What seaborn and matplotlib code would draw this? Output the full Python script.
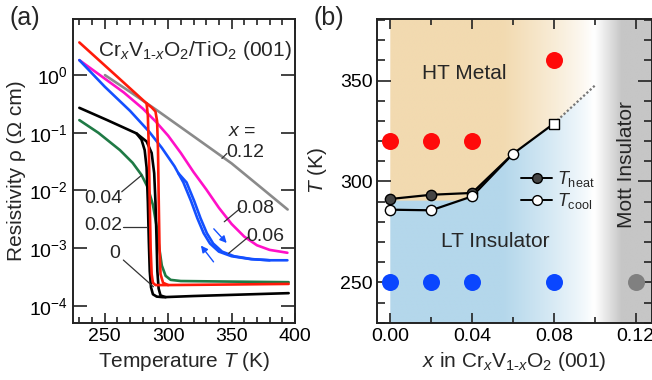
import numpy as np
import pandas as pd
import matplotlib
matplotlib.use("Agg")
import matplotlib.pyplot as plt
import matplotlib.ticker as mticker
from matplotlib.lines import Line2D
import seaborn as sns

# ---------------- data: panel (a) ----------------
# temperatures (K) and log10(resistivity / Ohm cm)
T_x0_cool = [230, 252, 275, 279, 281.5, 283, 284, 284.8, 285.5, 286.5, 288, 291, 296, 320, 350, 395]
L_x0_cool = [-0.567, -0.78, -1.01, -1.12, -1.3, -1.6, -2.2, -2.9, -3.4, -3.68, -3.8, -3.84, -3.85, -3.83, -3.81, -3.78]
T_x0_heat = [275, 283, 287, 289, 290, 290.8, 291.5, 292.5, 294, 298]
L_x0_heat = [-1.01, -1.15, -1.35, -1.7, -2.2, -2.8, -3.4, -3.7, -3.82, -3.85]

T_x2_cool = [230, 260, 283, 284, 284.8, 285.5, 286.2, 287, 288, 290, 300, 350, 395]
L_x2_cool = [0.567, -0.03, -0.49, -0.7, -1.3, -2.2, -3.0, -3.45, -3.6, -3.64, -3.64, -3.63, -3.62]
T_x2_heat = [283, 287, 290, 291.3, 292, 292.6, 293.2, 294, 296, 300]
L_x2_heat = [-0.49, -0.56, -0.63, -0.8, -1.3, -2.2, -3.0, -3.45, -3.6, -3.64]

T_x4 = [230, 245, 262, 272, 279, 284, 288, 291, 293, 295, 298, 302, 310, 350, 395]
L_x4 = [-0.78, -1.0, -1.3, -1.52, -1.73, -1.95, -2.25, -2.63, -3.0, -3.3, -3.48, -3.55, -3.57, -3.58, -3.59]

T_x6_cool = [230, 250, 270, 285, 295, 305, 312, 318, 323, 328, 333, 340, 350, 365, 380, 394]
L_x6_cool = [0.26, -0.2, -0.62, -0.98, -1.26, -1.58, -1.86, -2.18, -2.48, -2.74, -2.92, -3.06, -3.14, -3.19, -3.21, -3.21]
T_x6_heat = [308, 314.5, 320.5, 325.5, 330.5, 335.5, 342.5, 352, 366, 380]
L_x6_heat = [-1.70, -1.86, -2.18, -2.48, -2.74, -2.92, -3.06, -3.14, -3.19, -3.21]

T_x8 = [230, 250, 265, 280, 290, 300, 310, 320, 330, 340, 350, 360, 370, 380, 394]
L_x8 = [0.26, -0.06, -0.3, -0.58, -0.8, -1.05, -1.35, -1.68, -1.98, -2.3, -2.58, -2.8, -2.95, -3.03, -3.08]

T_x12 = [250.2, 270, 291, 320, 350, 372.7, 394.2]
L_x12 = [0.0, -0.29, -0.607, -1.06, -1.53, -1.94, -2.33]

# ---------------- data: panel (b) ----------------
x_heat = [0.00, 0.02, 0.04, 0.06]
T_heat = [291.3, 293.4, 294.3, 313.7]
x_cool = [0.00, 0.02, 0.04, 0.06]
T_cool = [286.0, 285.7, 292.6, 313.7]
x_cool_sq = [0.08]
T_cool_sq = [328.7]
x_extrap = [0.08, 0.10]
T_extrap = [328.7, 347.5]
x_metal = [0.00, 0.02, 0.04, 0.08]
T_metal = [320, 320, 320, 360]
x_ins = [0.00, 0.02, 0.04, 0.08]
T_ins = [250, 250, 250, 250]
x_mott = [0.12]
T_mott = [250]
# tan/blue boundary of the shaded phase regions
x_bound = [0.00, 0.035, 0.04, 0.06, 0.08, 0.10, 0.13]
T_bound = [290.5, 290.5, 292.6, 313.7, 328.7, 347.5, 378]

# ---------------- style ----------------
sns.set_style("ticks")
plt.rcParams["font.family"] = ["Liberation Sans", "DejaVu Sans"]
plt.rcParams["mathtext.fontset"] = "custom"
plt.rcParams["mathtext.rm"] = "Liberation Sans"
plt.rcParams["mathtext.it"] = "Liberation Sans:italic"
plt.rcParams["axes.edgecolor"] = "#222222"
plt.rcParams["axes.linewidth"] = 1.4

fig = plt.figure(figsize=(6.52, 3.80), dpi=100)
axa = fig.add_axes([73/652, 1-322.7/380, (295-73)/652, (322.7-19)/380])
axb = fig.add_axes([377.3/652, 1-322.7/380, (651.5-377.3)/652, (322.7-19)/380])

def branch(ax, T, L, color, lw=1.9):
    df = pd.DataFrame({"T": T, "rho": 10.0 ** np.asarray(L)})
    sns.lineplot(data=df, x="T", y="rho", ax=ax, color=color, lw=lw,
                 sort=False, estimator=None, legend=False)

c_red = "#ff1a0a"
c_blue = "#1450ff"
c_mag = "#ff10c8"
c_green = "#1f7a45"
c_grey = "#8a8a8a"

branch(axa, T_x12, L_x12, c_grey)
branch(axa, T_x8, L_x8, c_mag)
branch(axa, T_x6_cool, L_x6_cool, c_blue)
branch(axa, T_x6_heat, L_x6_heat, c_blue)
branch(axa, T_x4, L_x4, c_green)
branch(axa, T_x0_cool, L_x0_cool, "black")
branch(axa, T_x0_heat, L_x0_heat, "black")
branch(axa, T_x2_cool, L_x2_cool, c_red)
branch(axa, T_x2_heat, L_x2_heat, c_red)

axa.set_yscale("log")
axa.set_xlim(225, 400)
axa.set_ylim(5.1e-5, 9.4)
axa.xaxis.set_major_locator(mticker.MultipleLocator(50))
axa.xaxis.set_minor_locator(mticker.MultipleLocator(10))
axa.yaxis.set_major_locator(mticker.LogLocator(base=10, numticks=10))
axa.yaxis.set_minor_locator(mticker.NullLocator())
axa.tick_params(axis="both", which="both", direction="in", top=True, right=True,
                labelsize=14, colors="#222222", labelcolor="black")
axa.tick_params(axis="x", which="major", length=7, width=1.2)
axa.tick_params(axis="x", which="minor", length=4, width=1.2)
axa.tick_params(axis="y", which="major", length=10, width=1.2)
axa.set_xlabel("Temperature $T$ (K)", fontsize=15, labelpad=4)
axa.set_ylabel("Resistivity ρ (Ω cm)", fontsize=15, labelpad=2)

axa.text(0.985, 0.895, "Cr$_x$V$_{1\\text{-}x}$O$_2$/TiO$_2$ (001)", transform=axa.transAxes,
         ha="right", va="center", fontsize=15)

def px(pxx, pxy):
    T = 300 + (pxx - 168) * 50 / 63.3
    lg = -(pxy - 75) / 57.7
    return (T, 10 ** lg)

# curve labels with leader lines
def lab(text, xy_text, xy_line0, xy_line1, ha="center"):
    axa.text(*xy_text, text, fontsize=14, ha=ha, va="center")
    axa.plot([xy_line0[0], xy_line1[0]], [xy_line0[1], xy_line1[1]], color="#333333", lw=0.9)

axa.text(*px(241.7, 131.7), "$x$ =", fontsize=14, ha="center", va="center")
lab("0.12", px(245, 152), px(221.7, 158.3), px(226.7, 153.3))
lab("0.08", px(255, 208), px(224, 221.7), px(240, 208.3))
lab("0.06", px(265, 236.7), px(228.3, 253.3), px(248.3, 236.7))
lab("0.04", px(103.3, 198.3), px(121.7, 191.7), px(141.7, 175))
lab("0.02", px(103.3, 225), px(123.3, 226.7), px(146.7, 226.7))
lab("0", px(115, 253.3), px(123.3, 260), px(153.3, 286.7))

# hysteresis arrows
axa.annotate("", xy=px(228.3, 245), xytext=px(211.7, 226.7),
             arrowprops=dict(arrowstyle="-|>", color=c_blue, lw=1.0, mutation_scale=10))
axa.annotate("", xy=px(199, 243.3), xytext=px(215, 264),
             arrowprops=dict(arrowstyle="-|>", color=c_blue, lw=1.0, mutation_scale=10))

fig.text(25/652, 1-18/380, "(a)", fontsize=18, ha="center", va="center")
fig.text(329/652, 1-18/380, "(b)", fontsize=18, ha="center", va="center")

# ---------------- panel (b) ----------------
xlo, xhi = -0.00634, 0.1277
ylo, yhi = 230, 380.5
nx, ny = 600, 400
xs = np.linspace(xlo, xhi, nx)
ys = np.linspace(ylo, yhi, ny)
XX, YY = np.meshgrid(xs, ys)
bnd = np.interp(XX, x_bound, T_bound)
tan = np.array([242, 218, 176]) / 255.0
blue = np.array([180, 215, 235]) / 255.0
grey = np.array([198, 198, 198]) / 255.0
base = np.where((YY > bnd)[..., None], tan, blue)
fade = np.clip((0.099 - XX) / (0.099 - 0.055), 0, 1) ** 0.8
gfade = np.clip((XX - 0.1) / (0.113 - 0.1), 0, 1)
img = np.ones((ny, nx, 3))
img = img * (1 - fade[..., None]) + base * fade[..., None]
img = img * (1 - gfade[..., None]) + grey * gfade[..., None]
img[XX < 0] = 1.0
axb.imshow(img, extent=[xlo, xhi, ylo, yhi], origin="lower", aspect="auto",
           interpolation="bilinear", zorder=0)

sns.lineplot(x=x_extrap, y=T_extrap, ax=axb, color="#777777", lw=1.6, linestyle=(0, (1, 1)),
             sort=False, estimator=None, legend=False)
sns.lineplot(x=x_heat, y=T_heat, ax=axb, color="black", lw=1.6, sort=False, estimator=None, legend=False)
sns.lineplot(x=x_cool + x_cool_sq, y=T_cool + T_cool_sq, ax=axb, color="black", lw=1.6,
             sort=False, estimator=None, legend=False)
axb.scatter(x_heat[:3], T_heat[:3], s=55, color="#444444", edgecolor="black", lw=1.0, zorder=4)
axb.scatter(x_cool, T_cool, s=55, color="white", edgecolor="black", lw=1.0, zorder=5)
axb.scatter(x_cool_sq, T_cool_sq, s=55, marker="s", color="white", edgecolor="black", lw=1.0, zorder=5)
axb.scatter(x_metal, T_metal, s=150, color="#ff0a0a", lw=0, zorder=3)
axb.scatter(x_ins, T_ins, s=150, color="#0a46ff", lw=0, zorder=3)
axb.scatter(x_mott, T_mott, s=150, color="#808080", lw=0, zorder=3)

axb.set_xlim(xlo, xhi)
axb.set_ylim(ylo, yhi)
axb.xaxis.set_major_locator(mticker.FixedLocator([0.0, 0.04, 0.08, 0.12]))
axb.xaxis.set_major_formatter(mticker.FormatStrFormatter("%.2f"))
axb.xaxis.set_minor_locator(mticker.MultipleLocator(0.02))
axb.yaxis.set_major_locator(mticker.MultipleLocator(50))
axb.yaxis.set_minor_locator(mticker.MultipleLocator(10))
axb.tick_params(axis="both", which="both", direction="in", top=True, right=True,
                labelsize=14, colors="#222222", labelcolor="black")
axb.tick_params(axis="x", which="major", length=7, width=1.2)
axb.tick_params(axis="x", which="minor", length=4, width=1.2)
axb.tick_params(axis="y", which="major", length=10, width=1.2)
axb.tick_params(axis="y", which="minor", length=6, width=1.2)
axb.set_xlabel("$x$ in Cr$_x$V$_{1\\text{-}x}$O$_2$ (001)", fontsize=15, labelpad=4)
axb.set_ylabel("$T$ (K)", fontsize=15, labelpad=8)

axb.text(0.0364, 353.7, "HT Metal", fontsize=15, ha="center", va="center")
axb.text(0.0512, 270.3, "LT Insulator", fontsize=15, ha="center", va="center")
axb.text(0.1155, 308.5, "Mott Insulator", fontsize=15, ha="center", va="center", rotation=90)

handles = [Line2D([], [], color="black", lw=1.4, marker="o", ms=7, mfc="#444444", mec="black"),
           Line2D([], [], color="black", lw=1.4, marker="o", ms=7, mfc="white", mec="black")]
axb.legend(handles, ["$T_{\\mathrm{heat}}$", "$T_{\\mathrm{cool}}$"], loc="upper left",
           bbox_to_anchor=(0.525, 0.505), frameon=False, fontsize=13, handlelength=1.7,
           handletextpad=0.3, labelspacing=0.1, borderpad=0, borderaxespad=0)

fig.savefig("out.png", dpi=100)
